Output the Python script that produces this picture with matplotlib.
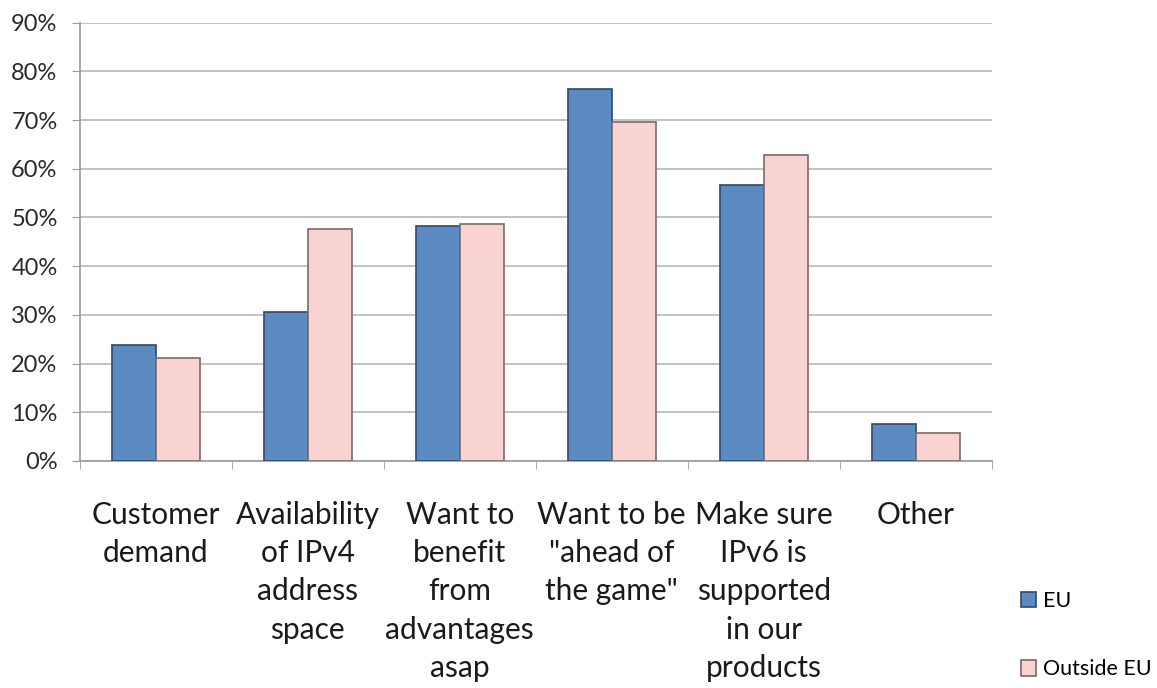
import matplotlib
matplotlib.use("Agg")
import matplotlib.pyplot as plt
import numpy as np

categories = ['Customer\ndemand', 'Availability\nof IPv4\naddress\nspace',
              'Want to\nbenefit\nfrom\nadvantages\nasap',
              'Want to be\n"ahead of\nthe game"',
              'Make sure\nIPv6 is\nsupported\nin our\nproducts', 'Other']
eu = [23.8, 30.6, 48.3, 76.4, 56.7, 7.6]
outside_eu = [21.1, 47.6, 48.7, 69.6, 62.8, 5.7]
yticks = [0, 10, 20, 30, 40, 50, 60, 70, 80, 90]

plt.rcParams['font.family'] = ['Lato', 'DejaVu Sans']

fig = plt.figure(figsize=(11.57, 6.88), dpi=100)
ax = fig.add_axes([0.069, 0.33, 0.788, 0.637])

x = np.arange(len(categories))
w = 0.29
b1 = ax.bar(x - w / 2, eu, w, color='#5B8BC0', edgecolor='#2E4A6E', linewidth=1.2, label='EU', zorder=3)
b2 = ax.bar(x + w / 2, outside_eu, w, color='#F9D2D2', edgecolor='#7A6A6A', linewidth=1.2, label='Outside EU', zorder=3)

ax.set_xlim(-0.5, len(categories) - 0.5)
ax.set_ylim(0, 90)
ax.set_yticks(yticks)
ax.set_yticklabels([f'{v}%' for v in yticks], fontsize=17, color='#2A2A2A')
ax.yaxis.grid(True, color='#B8B8B8', linewidth=1.2, zorder=0)

ax.set_xticks(x)
ax.set_xticklabels(categories, fontsize=21.5, color='#1A1A1A', linespacing=1.44, va='top')
ax.tick_params(axis='x', which='major', length=0, pad=29)
ax.set_xticks(np.arange(len(categories) + 1) - 0.5, minor=True)
ax.tick_params(axis='x', which='minor', length=6, color='#9A9A9A', direction='out')
ax.tick_params(axis='y', length=6, color='#9A9A9A', pad=10)

for s in ['top', 'right']:
    ax.spines[s].set_visible(False)
for s in ['left', 'bottom']:
    ax.spines[s].set_color('#9A9A9A')
    ax.spines[s].set_linewidth(1.2)

fig.legend(handles=[b1, b2], loc='lower left', bbox_to_anchor=(0.875, 0.0),
           frameon=False, fontsize=15.5, handlelength=0.72, handleheight=0.72,
           labelspacing=2.25, handletextpad=0.3, borderaxespad=0)

fig.savefig('out.png', dpi=100)
